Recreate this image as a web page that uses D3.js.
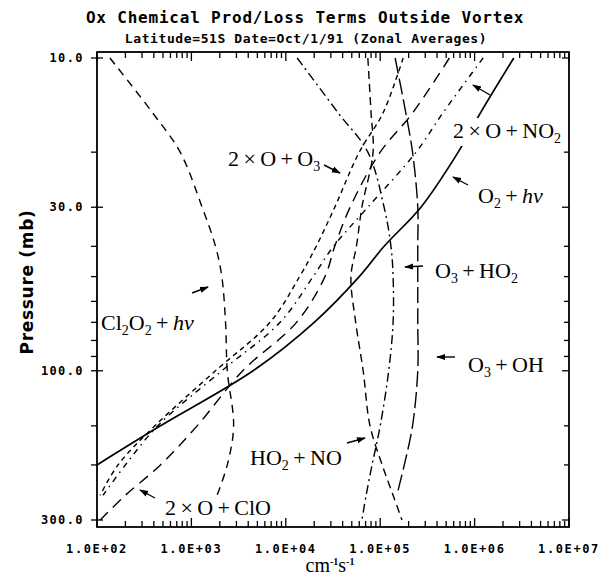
<!DOCTYPE html>
<html>
<head>
<meta charset="utf-8">
<script src="https://cdn.jsdelivr.net/npm/d3@7"></script>
<style>
  body { margin: 0; background: #fff; }
  .plot { font-family: "DejaVu Sans Mono", monospace; font-weight: bold; }
</style>
</head>
<body>
<div id="chart"></div>
<script>
// pressure levels (mb) shared by every profile
var pressure = [10, 15, 20, 30, 40, 50, 70, 100, 150, 200, 250, 300];

// production / loss rates (null = curve not drawn)
var o2hv   = [2.6e6, 1.15e6, 6.7e5, 2.7e5, 1.1e5, 6.0e4, 2.0e4, 4.5e3, 4.7e2, 1.0e2, null, null];
var oxO3   = [1.75e5, 1.07e5, 6.0e4, 3.3e4, 2.1e4, 1.4e4, 6.8e3, 1.8e3, 4.1e2, 1.67e2, 1.08e2, null];
var oxNO2  = [1.23e6, 4.6e5, 2.4e5, 7.4e4, 3.2e4, 1.95e4, 8.7e3, 2.1e3, 4.4e2, 2.0e2, 1.16e2, null];
var oxClO  = [5.4e5, 2.2e5, 1.0e5, 4.8e4, 3.3e4, 2.6e4, 1.3e4, 3.5e3, 1.15e3, 4.7e2, 2.0e2, 1.08e2];
var cl2o2  = [1.37e2, 3.9e2, 7.6e2, 1.3e3, 1.8e3, 2.1e3, 2.3e3, 2.4e3, 2.8e3, 2.4e3, 1.87e3, null];
var ho2no  = [7.4e4, 8.0e4, 8.4e4, 6.4e4, 5.6e4, 4.9e4, 5.5e4, 6.6e4, 7.8e4, 1.05e5, 1.37e5, 1.7e5];
var o3ho2  = [1.32e4, 3.6e4, 7.4e4, 1.1e5, 1.3e5, 1.37e5, 1.37e5, 1.23e5, 1.0e5, 8.2e4, 7.1e4, 6.4e4];
var o3oh   = [1.44e5, 1.87e5, 2.2e5, 2.5e5, 2.5e5, 2.5e5, 2.5e5, 2.5e5, 2.2e5, 1.8e5, 1.5e5, null];

var xTicks = [1e2, 1e3, 1e4, 1e5, 1e6, 1e7];
var xTickLabels = ["1.0E+02", "1.0E+03", "1.0E+04", "1.0E+05", "1.0E+06", "1.0E+07"];
var yTicks = [10, 30, 100, 300];
var yTickLabels = ["10.0", "30.0", "100.0", "300.0"];
var yMinor = [20, 40, 50, 60, 70, 80, 90, 150, 200];

function drawChart() {
  var W = 609, H = 575;
  var x = d3.scaleLog().domain([1e2, 1e7]).range([97, 569]);
  var y = d3.scaleLog().domain([10, 300]).range([58, 520]);
  var fTop = y(10) - 6, fBottom = y(300) + 7, fLeft = x(1e2), fRight = x(1e7);

  var svg = d3.select("#chart").append("svg")
      .attr("width", W).attr("height", H)
      .attr("class", "plot");

  var defs = svg.append("defs");
  defs.append("clipPath").attr("id", "clip")
    .append("rect")
      .attr("x", fLeft).attr("y", fTop)
      .attr("width", fRight - fLeft).attr("height", fBottom - fTop);

  defs.append("marker")
      .attr("id", "head")
      .attr("viewBox", "0 -5 10 10")
      .attr("refX", 9).attr("refY", 0)
      .attr("markerWidth", 9).attr("markerHeight", 9)
      .attr("markerUnits", "userSpaceOnUse")
      .attr("orient", "auto")
    .append("path")
      .attr("d", "M0,-3.5L10,0L0,3.5Z")
      .attr("fill", "#000");

  // titles
  svg.append("text")
      .attr("x", 305).attr("y", 23)
      .attr("text-anchor", "middle")
      .attr("font-size", "16px")
      .attr("letter-spacing", "0.8px")
      .text("Ox Chemical Prod/Loss Terms Outside Vortex");
  svg.append("text")
      .attr("x", 306).attr("y", 43)
      .attr("text-anchor", "middle")
      .attr("font-size", "13px")
      .attr("letter-spacing", "0.6px")
      .text("Latitude=51S Date=Oct/1/91 (Zonal Averages)");

  // minor ticks on the log x axis
  var xMinor = [];
  xTicks.slice(0, -1).forEach(function(d) {
    for (var k = 2; k < 10; k++) xMinor.push(d * k);
  });
  function isMajor(list, d) { return list.indexOf(d) >= 0; }

  var ax = svg.append("g").attr("stroke", "#000").attr("stroke-width", 1.3);

  // bottom + top ticks (pointing inwards)
  ax.selectAll(".xb").data(xTicks.concat(xMinor)).enter().append("line")
      .attr("x1", function(d) { return x(d); }).attr("x2", function(d) { return x(d); })
      .attr("y1", fBottom)
      .attr("y2", function(d) { return fBottom - (isMajor(xTicks, d) ? 9 : 6); });
  ax.selectAll(".xt").data(xTicks.concat(xMinor)).enter().append("line")
      .attr("x1", function(d) { return x(d); }).attr("x2", function(d) { return x(d); })
      .attr("y1", fTop)
      .attr("y2", function(d) { return fTop + (isMajor(xTicks, d) ? 9 : 6); });

  // left ticks (majors cross the axis), right ticks inwards
  ax.selectAll(".yl").data(yTicks.concat(yMinor)).enter().append("line")
      .attr("y1", function(d) { return y(d); }).attr("y2", function(d) { return y(d); })
      .attr("x1", fLeft - 6)
      .attr("x2", function(d) { return isMajor(yTicks, d) ? fLeft + 6 : fLeft; });
  ax.selectAll(".yr").data(yTicks.concat(yMinor)).enter().append("line")
      .attr("y1", function(d) { return y(d); }).attr("y2", function(d) { return y(d); })
      .attr("x1", fRight)
      .attr("x2", function(d) { return fRight - (isMajor(yTicks, d) ? 7 : 5); });

  // frame
  svg.append("rect")
      .attr("x", fLeft).attr("y", fTop)
      .attr("width", fRight - fLeft).attr("height", fBottom - fTop)
      .attr("fill", "none").attr("stroke", "#000").attr("stroke-width", 1.8);

  // tick labels
  svg.selectAll(".xl").data(xTicks).enter().append("text")
      .attr("x", function(d) { return x(d); })
      .attr("y", 553)
      .attr("text-anchor", "middle")
      .attr("font-size", "12px")
      .attr("letter-spacing", "1.6px")
      .text(function(d, i) { return xTickLabels[i]; });
  svg.selectAll(".yl2").data(yTicks).enter().append("text")
      .attr("x", 84)
      .attr("y", function(d) { return y(d); })
      .attr("dy", "0.35em")
      .attr("text-anchor", "end")
      .attr("font-size", "12px")
      .attr("letter-spacing", "1.4px")
      .text(function(d, i) { return yTickLabels[i]; });

  // axis titles
  svg.append("text")
      .attr("transform", "translate(33,282) rotate(-90)")
      .attr("text-anchor", "middle")
      .attr("font-family", "DejaVu Sans, sans-serif")
      .attr("font-size", "17px")
      .attr("letter-spacing", "0.7px")
      .text("Pressure (mb)");

  var xt = svg.append("text")
      .attr("x", 330).attr("y", 572)
      .attr("text-anchor", "middle")
      .attr("font-family", "Liberation Serif, serif")
      .attr("font-weight", "normal")
      .attr("font-size", "20px");
  xt.append("tspan").text("cm");
  xt.append("tspan").attr("dy", -7).attr("font-size", "10px").attr("font-weight", "bold").text("-1");
  xt.append("tspan").attr("dy", 7).text("s");
  xt.append("tspan").attr("dy", -7).attr("font-size", "10px").attr("font-weight", "bold").text("-1");

  // profiles
  var series = [
    {values: o2hv,  dash: null},
    {values: oxO3,  dash: "5,4"},
    {values: oxNO2, dash: "6,5,1.5,5"},
    {values: oxClO, dash: "11,7"},
    {values: cl2o2, dash: "8,6"},
    {values: ho2no, dash: "8,5"},
    {values: o3ho2, dash: "9,4,2,4"},
    {values: o3oh,  dash: "16,5"}
  ];

  var line = d3.line()
      .defined(function(d) { return d[1] != null; })
      .x(function(d) { return x(d[1]); })
      .y(function(d) { return y(d[0]); })
      .curve(d3.curveCatmullRom.alpha(0.5));

  svg.append("g").attr("clip-path", "url(#clip)")
    .selectAll("path").data(series).enter().append("path")
      .attr("d", function(s) { return line(pressure.map(function(p, i) { return [p, s.values[i]]; })); })
      .attr("fill", "none")
      .attr("stroke", "#000")
      .attr("stroke-width", function(s) { return s.dash ? 1.4 : 1.7; })
      .attr("stroke-dasharray", function(s) { return s.dash; });

  // curve labels (serif, with subscripts); thin spaces around operators
  var T = "\u2009";
  var labels = [
    {x: 453, y: 138, bg: true, parts: [["2"], [T + "\u00d7" + T], ["O"], [T + "+" + T], ["NO"], ["2", "sub"]]},
    {x: 478, y: 203, parts: [["O"], ["2", "sub"], [T + "+" + T], ["h", "it"], ["\u03bd", "it"]]},
    {x: 228, y: 166, parts: [["2"], [T + "\u00d7" + T], ["O"], [T + "+" + T], ["O"], ["3", "sub"]]},
    {x: 435, y: 278, parts: [["O"], ["3", "sub"], [T + "+" + T], ["HO"], ["2", "sub"]]},
    {x: 468, y: 372, parts: [["O"], ["3", "sub"], [T + "+" + T], ["OH"]]},
    {x: 101, y: 330, parts: [["Cl"], ["2", "sub"], ["O"], ["2", "sub"], [T + "+" + T], ["h", "it"], ["\u03bd", "it"]]},
    {x: 250, y: 465, parts: [["HO"], ["2", "sub"], [T + "+" + T], ["NO"]]},
    {x: 165, y: 515, parts: [["2"], [T + "\u00d7" + T], ["O"], [T + "+" + T], ["ClO"]]}
  ];

  var arrows = [
    [490, 95, 473, 85],
    [468, 185, 453, 177],
    [324, 165, 340, 173],
    [423, 266, 405, 267],
    [455, 357, 437, 357],
    [192, 293, 208, 287],
    [347, 443, 365, 438],
    [155, 498, 140, 490]
  ];

  var lg = svg.append("g")
      .attr("font-family", "Liberation Serif, serif")
      .attr("font-weight", "normal")
      .attr("font-size", "22px");

  labels.forEach(function(l) {
    var g = lg.append("g");
    var t = g.append("text").attr("x", l.x).attr("y", l.y);
    var down = false;
    l.parts.forEach(function(p) {
      var ts = t.append("tspan").text(p[0]);
      if (p[1] === "sub") {
        ts.attr("font-size", "14px").attr("dy", down ? 0 : 5);
        down = true;
      } else {
        if (down) ts.attr("dy", -5);
        down = false;
        if (p[1] === "it") ts.attr("font-style", "italic");
      }
    });
    if (l.bg) {
      var b = t.node().getBBox();
      g.insert("rect", "text")
        .attr("x", b.x - 2).attr("y", b.y)
        .attr("width", b.width + 4).attr("height", b.height)
        .attr("fill", "#fff");
    }
  });

  svg.append("g").selectAll("line").data(arrows).enter().append("line")
      .attr("x1", function(d) { return d[0]; }).attr("y1", function(d) { return d[1]; })
      .attr("x2", function(d) { return d[2]; }).attr("y2", function(d) { return d[3]; })
      .attr("stroke", "#000").attr("stroke-width", 1.4)
      .attr("marker-end", "url(#head)");
}

drawChart();
</script>
</body>
</html>
